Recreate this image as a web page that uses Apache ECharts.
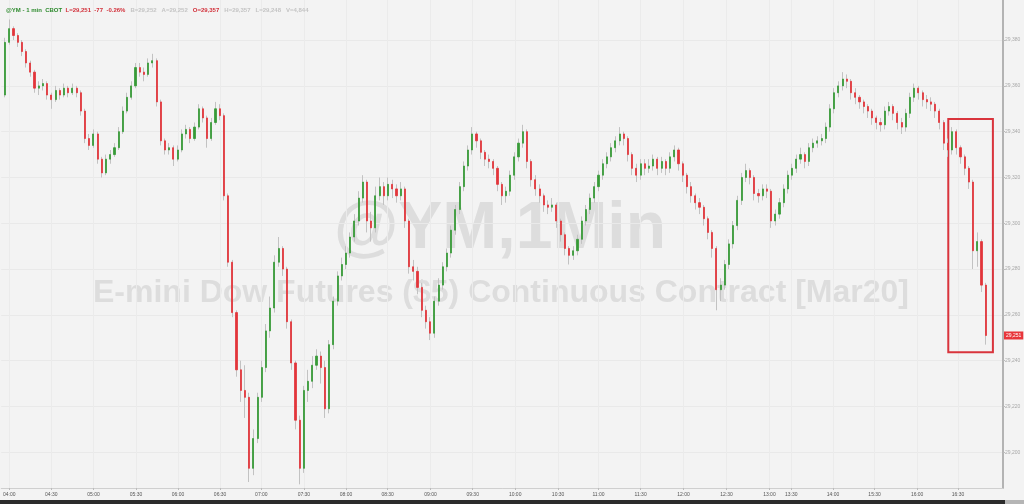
<!DOCTYPE html>
<html><head><meta charset="utf-8">
<script src="https://cdn.jsdelivr.net/npm/echarts@6/dist/echarts.min.js"></script>
<style>html,body{margin:0;padding:0;background:#f3f3f3}#c{width:1024px;height:504px}</style>
</head><body><div id="c"></div>
<script>
// 3-minute slots (slot index on x)
const opens=[29356,29379,29385,29382,29379,29375,29370,29366,29359,29360,
29361,29356,29354,29358,29356,29359,29357,29359,29357,29349,
29337,29334,29339,29328,29322,29328,29330,29333,29340,29349,
29355,29360,29368,29366,29365,29370,29371,29353,29336,29332,
29333,29328,29332,29339,29341,29337,29342,29350,29346,29337,
29344,29350,29347,29312,29283,29261,29236,29227,29224,29193,
29206,29224,29237,29253,29263,29283,29289,29280,29257,29239,
29214,29193,29227,29231,29238,29242,29237,29219,29247,29266,
29277,29282,29287,29294,29301,29311,29318,29301,29298,29312,
29316,29312,29317,29315,29312,29315,29301,29281,29279,29272,
29262,29257,29252,29266,29273,29281,29287,29297,29306,29316,
29325,29332,29339,29336,29331,29328,29327,29324,29317,29312,
29314,29321,29329,29335,29340,29327,29319,29315,29312,29308,
29307,29308,29301,29295,29289,29286,29288,29293,29301,29306,
29311,29316,29321,29326,29329,29333,29336,29339,29337,29330,
29324,29321,29326,29324,29325,29328,29324,29327,29324,29329,
29332,29326,29321,29316,29312,29309,29307,29302,29296,29289,
29271,29273,29282,29291,29299,29310,29320,29323,29320,29313,
29312,29315,29314,29301,29304,29309,29315,29321,29324,29328,
29330,29327,29333,29335,29336,29337,29342,29350,29357,29360,
29363,29362,29357,29355,29353,29351,29349,29346,29344,29343,
29349,29351,29348,29344,29342,29348,29355,29359,29357,29354,
29353,29352,29349,29344,29335,29332,29340,29333,29329,29324,
29318,29288,29292,29273];
const closes=[29379,29385,29382,29379,29375,29370,29366,29359,29360,29361,
29356,29354,29358,29356,29359,29357,29359,29357,29349,29337,
29334,29339,29328,29322,29328,29330,29333,29340,29349,29355,
29360,29368,29366,29365,29370,29371,29353,29336,29332,29333,
29328,29332,29339,29341,29337,29342,29350,29346,29337,29344,
29350,29347,29312,29283,29261,29236,29227,29224,29193,29206,
29224,29237,29253,29263,29283,29289,29280,29257,29239,29214,
29193,29227,29231,29238,29242,29237,29219,29247,29266,29277,
29282,29287,29294,29301,29311,29318,29301,29298,29312,29316,
29312,29317,29315,29312,29315,29301,29281,29279,29272,29262,
29257,29252,29266,29273,29281,29287,29297,29306,29316,29325,
29332,29339,29336,29331,29328,29327,29324,29317,29312,29314,
29321,29329,29335,29340,29327,29319,29315,29312,29308,29307,
29308,29301,29295,29289,29286,29288,29293,29301,29306,29311,
29316,29321,29326,29329,29333,29336,29339,29337,29330,29324,
29321,29326,29324,29325,29328,29324,29327,29324,29329,29332,
29326,29321,29316,29312,29309,29307,29302,29296,29289,29271,
29273,29282,29291,29299,29310,29320,29323,29320,29313,29312,
29315,29314,29301,29304,29309,29315,29321,29324,29328,29330,
29327,29333,29335,29336,29337,29342,29350,29357,29360,29363,
29362,29357,29355,29353,29351,29349,29346,29344,29343,29349,
29351,29348,29344,29342,29348,29355,29359,29357,29354,29353,
29352,29349,29344,29335,29332,29340,29333,29329,29324,29318,
29288,29292,29273,29251];
const highs=[29381,29389,29386,29383,29380,29376,29371,29367,29362,29363,
29362,29357,29360,29359,29361,29360,29361,29360,29358,29350,
29339,29341,29340,29329,29330,29332,29335,29342,29351,29357,
29362,29370,29370,29368,29372,29374,29372,29354,29337,29335,
29334,29334,29341,29343,29342,29344,29352,29351,29347,29346,
29353,29352,29348,29313,29284,29262,29240,29238,29226,29210,
29226,29240,29256,29268,29286,29294,29290,29281,29258,29240,
29216,29229,29236,29242,29245,29244,29240,29249,29268,29279,
29285,29290,29296,29304,29314,29321,29319,29305,29316,29320,
29318,29320,29319,29317,29318,29316,29302,29284,29281,29274,
29264,29259,29268,29276,29283,29289,29299,29308,29318,29327,
29334,29342,29340,29337,29332,29330,29328,29325,29318,29316,
29323,29331,29337,29343,29341,29328,29321,29317,29313,29310,
29311,29309,29302,29296,29290,29290,29295,29303,29308,29313,
29318,29323,29328,29331,29335,29338,29342,29340,29338,29331,
29326,29328,29328,29328,29330,29329,29329,29328,29331,29334,
29333,29327,29322,29318,29313,29311,29308,29303,29297,29290,
29276,29284,29293,29301,29312,29322,29326,29324,29321,29315,
29317,29317,29315,29306,29311,29317,29323,29326,29330,29333,
29331,29335,29337,29338,29339,29344,29352,29359,29362,29366,
29365,29363,29359,29356,29354,29352,29350,29347,29346,29351,
29353,29352,29349,29346,29350,29357,29361,29360,29358,29356,
29355,29353,29350,29345,29337,29342,29341,29334,29330,29325,
29319,29296,29293,29274];
const lows=[29355,29378,29380,29377,29373,29368,29364,29357,29356,29358,
29354,29350,29353,29354,29355,29355,29356,29355,29347,29335,
29332,29333,29326,29320,29321,29326,29329,29332,29339,29348,
29354,29359,29364,29362,29364,29368,29351,29334,29330,29330,
29325,29327,29331,29337,29335,29336,29341,29344,29333,29336,
29343,29345,29310,29281,29259,29233,29222,29215,29187,29190,
29204,29222,29235,29250,29261,29281,29277,29254,29236,29210,
29186,29191,29222,29228,29236,29230,29215,29217,29245,29264,
29275,29280,29285,29292,29299,29309,29296,29292,29296,29310,
29308,29310,29311,29309,29310,29298,29278,29275,29269,29259,
29254,29249,29250,29264,29271,29279,29285,29295,29304,29314,
29323,29330,29333,29328,29325,29324,29321,29314,29308,29309,
29312,29319,29327,29333,29324,29316,29312,29309,29305,29304,
29305,29298,29292,29286,29282,29284,29286,29291,29299,29304,
29309,29314,29319,29324,29327,29331,29334,29334,29327,29321,
29318,29319,29321,29322,29323,29321,29322,29321,29322,29327,
29323,29318,29313,29309,29306,29304,29299,29293,29285,29262,
29266,29271,29280,29289,29297,29308,29318,29317,29310,29309,
29310,29311,29298,29299,29302,29307,29313,29319,29322,29326,
29324,29325,29331,29333,29334,29335,29340,29348,29355,29358,
29359,29354,29352,29350,29348,29346,29343,29341,29340,29341,
29347,29345,29341,29339,29340,29346,29353,29354,29351,29350,
29349,29346,29341,29332,29329,29330,29330,29326,29321,29315,
29280,29281,29270,29247];
const xTickSlots=[1,11,21,31.1,41.1,51.1,60.9,71,81,90.9,101.1,111.1,121.2,131.4,141,151,161.2,171.4,181.6,186.8,196.7,206.6,216.7,226.4];
const xTickLabels=['04:00','04:30','05:00','05:30','06:00','06:30','07:00','07:30','08:00','08:30','09:00','09:30','10:00','10:30','11:00','11:30','12:00','12:30','13:00','13:30','14:00','15:30','16:00','16:30'];
const yTickValues=[29200,29220,29240,29260,29280,29300,29320,29340,29360,29380];
const yTickLabels=['29,200','29,220','29,240','29,260','29,280','29,300','29,320','29,340','29,360','29,380'];
const lastPrice=29251;
const lastPriceLabel='29,251';
const boxSlots=[224.1,234.7];
const boxPrices=[29345.5,29243.7];

const wickData=closes.map((c,i)=>[i,opens[i],c,lows[i],highs[i]]);
const bodyData=closes.map((c,i)=>[i,opens[i],c,Math.min(opens[i],c),Math.max(opens[i],c)]);
const GREEN='#379a37', RED='#e2353a';

const chart=echarts.init(document.getElementById('c'),null,{renderer:'canvas'});
chart.setOption({
  animation:false,
  backgroundColor:'#f3f3f3',
  title:{
    left:1,top:2,
    text:'{g|@YM - 1 min  CBOT}  {r|L=29,251  -77  -0.26%}   {k|B=29,252   A=29,252}   {r|O=29,357}   {k|H=29,357   L=29,248   V=4,844}',
    textStyle:{fontSize:6,rich:{
      g:{color:'#2e8b2e',fontSize:6,fontWeight:'bold',fontFamily:'Liberation Sans'},
      r:{color:'#d2303a',fontSize:6,fontWeight:'bold',fontFamily:'Liberation Sans'},
      k:{color:'#c4c4c4',fontSize:6,fontFamily:'Liberation Sans'}
    }}
  },
  graphic:[
    {type:'text',z:0,x:500,y:230,style:{text:'@YM,1Min',font:'bold 66px "Liberation Sans", Arial, sans-serif',fill:'#dddddd',align:'center',verticalAlign:'middle'}},
    {type:'text',z:0,x:501,y:293,style:{text:'E-mini Dow Futures ($5) Continuous Contract [Mar20]',font:'bold 32px "Liberation Sans", Arial, sans-serif',fill:'#dddddd',align:'center',verticalAlign:'middle'}},
    {type:'rect',z:10,shape:{x:0,y:500,width:1005,height:4},style:{fill:'#2b2b2b'}},
    {type:'rect',z:10,shape:{x:1005,y:500,width:19,height:4},style:{fill:'#b5b5b5'}}
  ],
  grid:{left:0,right:21,top:0,bottom:16},
  xAxis:{
    type:'value',min:-0.9,max:237.1,
    axisLine:{show:true,onZero:false,lineStyle:{color:'#cfcfcf',width:1}},
    axisTick:{show:true,customValues:xTickSlots,length:2,lineStyle:{color:'#bbb'}},
    axisLabel:{customValues:xTickSlots,fontSize:5,color:'#555',margin:4,fontFamily:'Liberation Sans',
      formatter:v=>{const k=xTickSlots.indexOf(v);return k>=0?xTickLabels[k]:'';}},
    splitLine:{show:true,lineStyle:{color:'#ebebeb',width:1}}
  },
  yAxis:{
    type:'value',position:'right',min:29184.4,max:29397.5,
    axisLine:{show:true,onZero:false,lineStyle:{color:'#b3b3b3',width:2}},
    axisTick:{show:true,customValues:yTickValues,length:2,lineStyle:{color:'#bbb'}},
    axisLabel:{customValues:yTickValues,fontSize:5,color:'#a8a8a8',margin:2,fontFamily:'Liberation Sans',
      formatter:v=>{const k=yTickValues.indexOf(v);return k>=0?yTickLabels[k]:'';}},
    splitLine:{show:true,lineStyle:{color:'#e9e9e9',width:1}}
  },
  series:[
    {type:'candlestick',name:'wicks',z:2,data:wickData,encode:{x:0,y:[1,2,3,4]},barWidth:1,
      itemStyle:{color:'rgba(0,0,0,0)',color0:'rgba(0,0,0,0)',borderColor:'#c2c2c2',borderColor0:'#c2c2c2',borderColorDoji:'#c2c2c2',borderWidth:1}},
    {type:'candlestick',name:'YM',z:3,data:bodyData,encode:{x:0,y:[1,2,3,4]},barWidth:1.6,
      itemStyle:{color:GREEN,color0:RED,borderColor:GREEN,borderColor0:RED,borderColorDoji:RED,borderWidth:0.8},
      markArea:{silent:true,itemStyle:{color:'rgba(0,0,0,0)',borderColor:'#d9343c',borderWidth:2},
        data:[[{xAxis:boxSlots[0],yAxis:boxPrices[0]},{xAxis:boxSlots[1],yAxis:boxPrices[1]}]]},
      markLine:{silent:true,symbol:'none',lineStyle:{color:'rgba(0,0,0,0)',width:0},
        label:{show:true,position:'end',distance:1,formatter:lastPriceLabel,backgroundColor:'#e8353b',color:'#ffffff',opacity:1,fontSize:5,padding:[2,2,1,2],fontFamily:'Liberation Sans'},
        data:[{yAxis:lastPrice}]}
    }
  ]
});
</script></body></html>
